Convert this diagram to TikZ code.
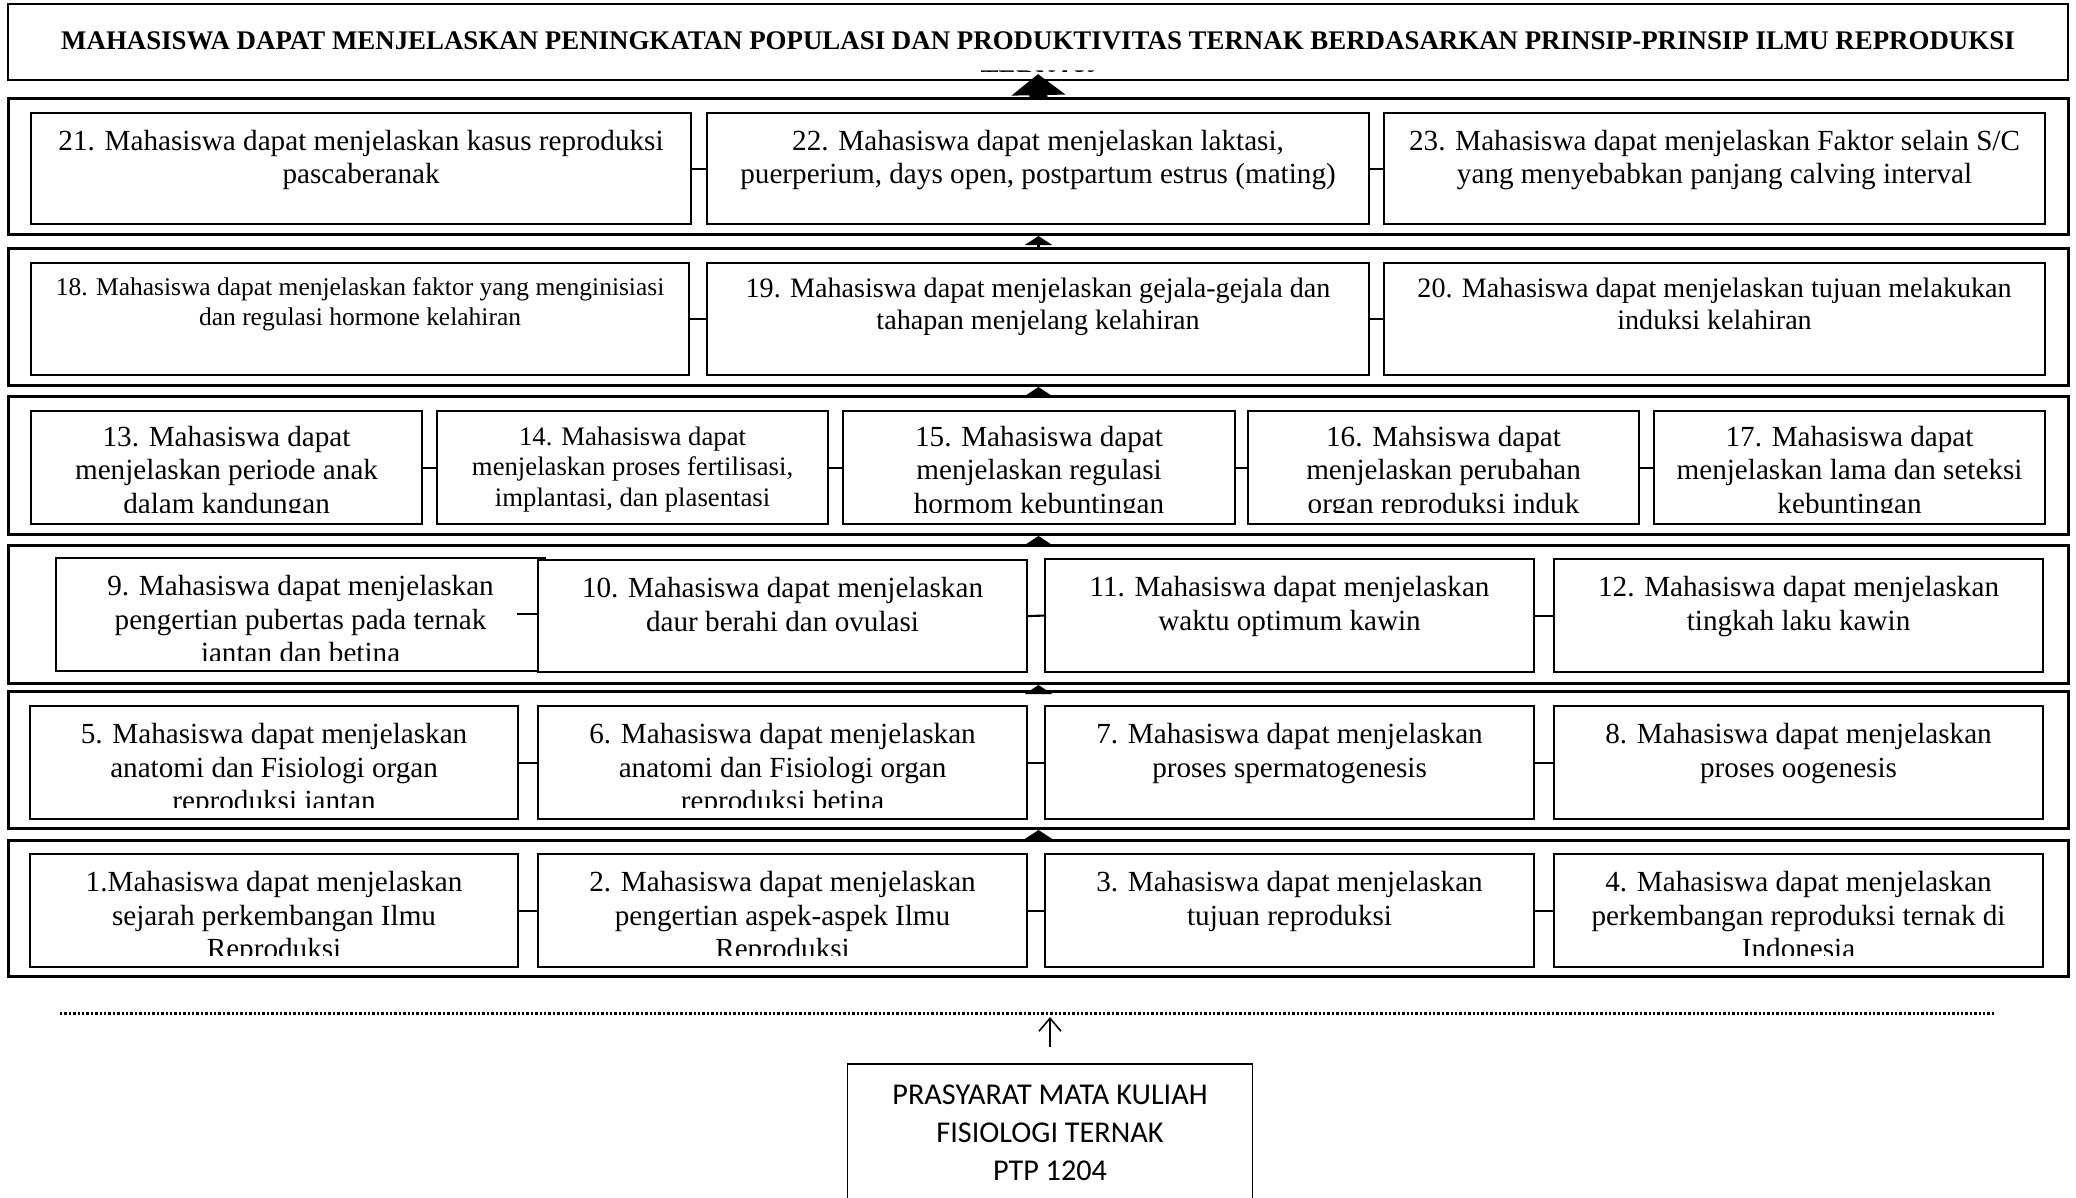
\documentclass[tikz,border=0pt]{standalone}
\usepackage{fontspec}
\setmainfont{Liberation Serif}
\newfontfamily\calibri{Carlito}
\usetikzlibrary{arrows.meta}

\begin{document}
\begin{tikzpicture}[
  grup/.style={draw, line width=0.85pt, inner sep=0pt, anchor=north west, minimum width=20.60cm},
  kotak/.style={draw, fill=white, line width=0.6pt, inner sep=0pt, anchor=north west},
  teks/.style={anchor=north, inner sep=0pt, align=center, yshift=-0.18cm, font=\fontsize{8.3}{9.4}\selectfont},
  tekskecil/.style={teks, font=\fontsize{7.6}{8.7}\selectfont},
  teksB/.style={teks, yshift=0.03cm, font=\fontsize{8.0}{9.3}\selectfont},
  sambung/.style={line width=0.6pt},
  naik/.style={line width=0.03cm, -{Triangle[width=0.27cm,length=0.09cm]}},
  naikbesar/.style={line width=0.18cm, -{Triangle[width=0.53cm,length=0.21cm]}},
  titik/.style={line width=0.03cm, dash pattern=on 0.024cm off 0.02cm},
  panahtipis/.style={line width=0.45pt, -{Straight Barb[width=0.22cm,length=0.13cm]}}
]
\clip (0,0) rectangle (20.76,-11.97); % taille de la page

% le cadre du titre
\node[grup, line width=0.6pt, minimum height=0.76cm] (judul) at (0.07,-0.03) {};
\begin{scope}
\clip (0,0) rectangle (20.76,-0.71);
\node[anchor=north, inner sep=0pt, align=center, yshift=-0.28cm, font=\bfseries\fontsize{7.65}{11}\selectfont] (judul-t) at (judul.north)
  {MAHASISWA DAPAT MENJELASKAN PENINGKATAN POPULASI DAN PRODUKTIVITAS TERNAK BERDASARKAN PRINSIP-PRINSIP ILMU REPRODUKSI\\TERNAK};
\end{scope}

% les six bandes
\node[grup, minimum height=1.36cm] (grupA) at (0.07,-0.97) {};
\node[grup, minimum height=1.37cm] (grupB) at (0.07,-2.47) {};
\node[grup, minimum height=1.38cm] (grupC) at (0.07,-3.95) {};
\node[grup, minimum height=1.38cm] (grupD) at (0.07,-5.44) {};
\node[grup, minimum height=1.37cm] (grupE) at (0.07,-6.90) {};
\node[grup, minimum height=1.36cm] (grupF) at (0.07,-8.39) {};

% bande 21-23
\node[kotak, minimum width=6.60cm, minimum height=1.11cm] (b21) at (0.30,-1.12) {};
\node[kotak, minimum width=6.62cm, minimum height=1.11cm] (b22) at (7.06,-1.12) {};
\node[kotak, minimum width=6.61cm, minimum height=1.11cm] (b23) at (13.83,-1.12) {};
\draw[sambung] (b21.east) -- (b22.west);
\draw[sambung] (b22.east) -- (b23.west);
\begin{scope}
\clip (0,-1.12) rectangle (20.76,-2.12);
\node[teks] (t21) at (b21.north) {21. Mahasiswa dapat menjelaskan kasus reproduksi\\pascaberanak};
\node[teks] (t22) at (b22.north) {22. Mahasiswa dapat menjelaskan laktasi,\\puerperium, days open, postpartum estrus (mating)};
\node[teks] (t23) at (b23.north) {23. Mahasiswa dapat menjelaskan Faktor selain S/C\\yang menyebabkan panjang calving interval};
\end{scope}

% bande 18-20
\node[kotak, minimum width=6.58cm, minimum height=1.12cm] (b18) at (0.30,-2.62) {};
\node[kotak, minimum width=6.62cm, minimum height=1.12cm] (b19) at (7.06,-2.62) {};
\node[kotak, minimum width=6.61cm, minimum height=1.12cm] (b20) at (13.83,-2.62) {};
\draw[sambung] (b18.east) -- (b19.west);
\draw[sambung] (b19.east) -- (b20.west);
\begin{scope}
\clip (0,-2.62) rectangle (20.76,-3.63);
\node[teksB, font=\fontsize{7.25}{8.6}\selectfont] (t18) at (b18.north) {18. Mahasiswa dapat menjelaskan faktor yang menginisiasi\\dan regulasi hormone kelahiran};
\node[teksB] (t19) at (b19.north) {19. Mahasiswa dapat menjelaskan gejala-gejala dan\\tahapan menjelang kelahiran};
\node[teksB] (t20) at (b20.north) {20. Mahasiswa dapat menjelaskan tujuan melakukan\\induksi kelahiran};
\end{scope}

% bande 13-17
\node[kotak, minimum width=3.91cm, minimum height=1.13cm] (b13) at (0.30,-4.10) {};
\node[kotak, minimum width=3.91cm, minimum height=1.13cm] (b14) at (4.36,-4.10) {};
\node[kotak, minimum width=3.92cm, minimum height=1.13cm] (b15) at (8.42,-4.10) {};
\node[kotak, minimum width=3.91cm, minimum height=1.13cm] (b16) at (12.47,-4.10) {};
\node[kotak, minimum width=3.91cm, minimum height=1.13cm] (b17) at (16.53,-4.10) {};
\draw[sambung] (b13.east) -- (b14.west);
\draw[sambung] (b14.east) -- (b15.west);
\draw[sambung] (b15.east) -- (b16.west);
\draw[sambung] (b16.east) -- (b17.west);
\begin{scope}
\clip (0,-4.10) rectangle (20.76,-5.12);
\node[teks, yshift=0.02cm] (t13) at (b13.north) {13. Mahasiswa dapat\\menjelaskan periode anak\\dalam kandungan};
\node[tekskecil, yshift=0.02cm] (t14) at (b14.north) {14. Mahasiswa dapat\\menjelaskan proses fertilisasi,\\implantasi, dan plasentasi};
\node[teks, yshift=0.02cm] (t15) at (b15.north) {15. Mahasiswa dapat\\menjelaskan regulasi\\hormom kebuntingan};
\node[teks, yshift=0.02cm] (t16) at (b16.north) {16. Mahsiswa dapat\\menjelaskan perubahan\\organ reproduksi induk};
\node[teks, yshift=0.02cm] (t17) at (b17.north) {17. Mahasiswa dapat\\menjelaskan lama dan seteksi\\kebuntingan};
\end{scope}

% bande 9-12
\node[kotak, minimum width=4.89cm, minimum height=1.13cm] (b9) at (0.55,-5.57) {};
\node[kotak, minimum width=4.89cm, minimum height=1.12cm] (b10) at (5.37,-5.59) {};
\node[kotak, minimum width=4.89cm, minimum height=1.13cm] (b11) at (10.44,-5.58) {};
\node[kotak, minimum width=4.89cm, minimum height=1.13cm] (b12) at (15.53,-5.58) {};
\coordinate (ujung9) at (5.17,-6.14);
\draw[sambung] (ujung9) -- (ujung9 -| b10.west);
\draw[sambung] (b10.east) -- (b11.west);
\draw[sambung] (b11.east) -- (b12.west);
\begin{scope}
\clip (0,-5.57) rectangle (20.76,-6.60);
\node[teks] (t9) at (b9.north) {9. Mahasiswa dapat menjelaskan\\pengertian pubertas pada ternak\\jantan dan betina};
\node[teks] (t10) at (b10.north) {10. Mahasiswa dapat menjelaskan\\daur berahi dan ovulasi};
\node[teks] (t11) at (b11.north) {11. Mahasiswa dapat menjelaskan\\waktu optimum kawin};
\node[teks] (t12) at (b12.north) {12. Mahasiswa dapat menjelaskan\\tingkah laku kawin};
\end{scope}

% bande 5-8
\node[kotak, minimum width=4.88cm, minimum height=1.13cm] (b5) at (0.29,-7.05) {};
\node[kotak, minimum width=4.89cm, minimum height=1.13cm] (b6) at (5.37,-7.05) {};
\node[kotak, minimum width=4.89cm, minimum height=1.13cm] (b7) at (10.44,-7.05) {};
\node[kotak, minimum width=4.89cm, minimum height=1.13cm] (b8) at (15.53,-7.05) {};
\draw[sambung] (b5.east) -- (b6.west);
\draw[sambung] (b6.east) -- (b7.west);
\draw[sambung] (b7.east) -- (b8.west);
\begin{scope}
\clip (0,-7.05) rectangle (20.76,-8.07);
\node[teks] (t5) at (b5.north) {5. Mahasiswa dapat menjelaskan\\anatomi dan Fisiologi organ\\reproduksi jantan};
\node[teks] (t6) at (b6.north) {6. Mahasiswa dapat menjelaskan\\anatomi dan Fisiologi organ\\reproduksi betina};
\node[teks] (t7) at (b7.north) {7. Mahasiswa dapat menjelaskan\\proses spermatogenesis};
\node[teks] (t8) at (b8.north) {8. Mahasiswa dapat menjelaskan\\proses oogenesis};
\end{scope}

% bande 1-4
\node[kotak, minimum width=4.88cm, minimum height=1.13cm] (b1) at (0.29,-8.53) {};
\node[kotak, minimum width=4.89cm, minimum height=1.13cm] (b2) at (5.37,-8.53) {};
\node[kotak, minimum width=4.89cm, minimum height=1.13cm] (b3) at (10.44,-8.53) {};
\node[kotak, minimum width=4.89cm, minimum height=1.13cm] (b4) at (15.53,-8.53) {};
\draw[sambung] (b1.east) -- (b2.west);
\draw[sambung] (b2.east) -- (b3.west);
\draw[sambung] (b3.east) -- (b4.west);
\begin{scope}
\clip (0,-8.53) rectangle (20.76,-9.55);
\node[teks] (t1) at (b1.north) {1.Mahasiswa dapat menjelaskan\\sejarah perkembangan Ilmu\\Reproduksi};
\node[teks] (t2) at (b2.north) {2. Mahasiswa dapat menjelaskan\\pengertian aspek-aspek Ilmu\\Reproduksi};
\node[teks] (t3) at (b3.north) {3. Mahasiswa dapat menjelaskan\\tujuan reproduksi};
\node[teks] (t4) at (b4.north) {4. Mahasiswa dapat menjelaskan\\perkembangan reproduksi ternak di\\Indonesia};
\end{scope}

% les fleches entre les bandes
\draw[naik] (grupF.north) -- (grupE.south);
\draw[naik] (grupE.north) -- (grupD.south);
\draw[naik] (grupD.north) -- (grupC.south);
\draw[naik] (grupC.north) -- (grupB.south);
\draw[naik] (grupB.north) -- (grupA.south);
\draw[naikbesar] (grupA.north) -- ([yshift=0.07cm]judul.south);

% prerequis
\coordinate (titikkiri) at (0.60,-10.13);
\coordinate (titikkanan) at (19.96,-10.13);
\draw[titik] (titikkiri) -- (titikkanan); % ligne pointillee
\node[draw, line width=0.5pt, minimum width=4.05cm, minimum height=1.38cm, anchor=north, align=center,
  font=\calibri\fontsize{8.6}{10.9}\selectfont] (prasyarat) at (10.50,-10.63)
  {PRASYARAT MATA KULIAH\\FISIOLOGI TERNAK\\PTP 1204};
\coordinate (sasaran) at ([yshift=-0.04cm]prasyarat.north |- titikkiri);
\draw[panahtipis] ([yshift=0.16cm]prasyarat.north) -- (sasaran);
\end{tikzpicture}
\end{document}
